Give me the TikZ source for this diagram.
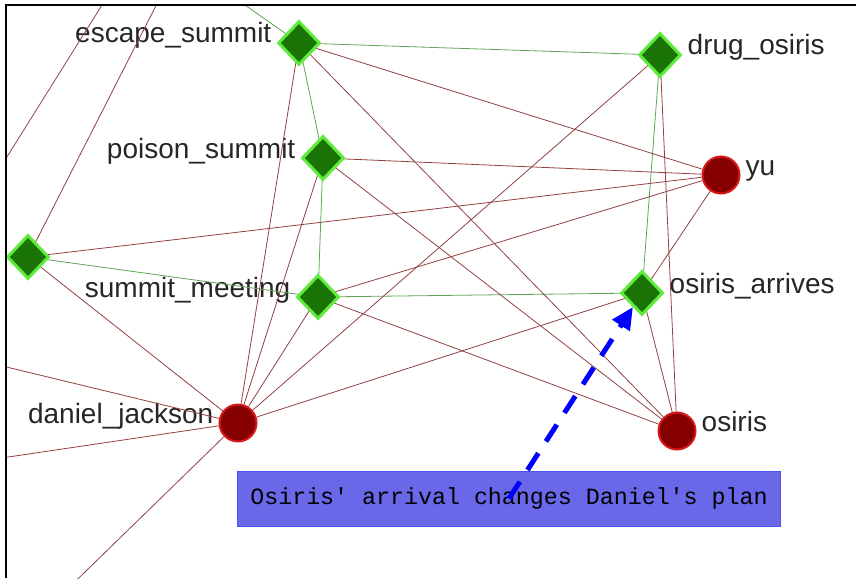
\documentclass[tikz,border=0pt]{standalone}
\usepackage{fontspec}
\usepackage{xcolor}
\usepackage{tikz}
\usetikzlibrary{arrows.meta,shapes.geometric}
\setmainfont{Liberation Sans}
\newfontfamily\notemono{Liberation Mono}
\definecolor{evtfill}{RGB}{25,115,5}
\definecolor{evtedge}{RGB}{95,235,60}
\definecolor{agtfill}{RGB}{135,0,0}
\definecolor{agtedge}{RGB}{215,25,25}
\definecolor{linkred}{RGB}{145,65,65}
\definecolor{linkgreen}{RGB}{95,165,85}
\definecolor{noteblue}{RGB}{104,104,232}
\definecolor{noteedge}{RGB}{80,80,250}

\begin{document}
\begin{tikzpicture}[x=1pt,y=-1pt,
  event/.style={diamond, draw=evtedge, fill=evtfill, line width=3pt,
                minimum width=42pt, minimum height=44pt, inner sep=0pt},
  agent/.style={circle, draw=agtedge, fill=agtfill, line width=2pt,
                minimum size=37pt, inner sep=0pt},
  lbl/.style={font=\fontsize{28}{30}\selectfont, inner sep=0pt, text=black!85},
  tagleft/.style={label={[lbl,anchor=base east,xshift=-5pt]west:#1}},
  tagright/.style={label={[lbl,anchor=base west,xshift=5pt]east:#1}},
  rel/.style={linkred, line width=0.8pt},
  tie/.style={linkgreen, line width=0.8pt},
  note/.style={draw=noteedge, fill=noteblue, line width=1pt, inner xsep=13pt,
               minimum height=55pt, font=\notemono\fontsize{23.3}{25}\selectfont},
  arrow/.style={-{Triangle[length=22pt,width=20pt]}, blue, line width=5pt,
                dash pattern=on 20pt off 14pt}
]
\useasboundingbox (0,0) rectangle (856,578);

% events and agents
\node[event, tagleft=escape\_summit] (escape) at (299,43) {};
\node[event, tagright=drug\_osiris] (drug) at (660,55) {};
\node[event, tagleft=poison\_summit] (poison) at (323,158) {};
\node[agent, tagright=yu] (yu) at (721,175) {};
\node[event] (side) at (28,257) {};
\node[event, tagleft=summit\_meeting] (meeting) at (318,297) {};
\node[event, tagright=osiris\_arrives] (arrives) at (642,293) {};
\node[agent, tagleft=daniel\_jackson] (daniel) at (238,423) {};
\node[agent, tagright=osiris] (osiris) at (677,431) {};

% green links between events
\draw[tie] (escape) -- (drug);
\draw[tie] (escape) -- (poison);
\draw[tie] (poison) -- (meeting);
\draw[tie] (side) -- (meeting);
\draw[tie] (meeting) -- (arrives);
\draw[tie] (drug) -- (arrives);

% red links
\draw[rel] (escape) -- (yu);
\draw[rel] (escape) -- (osiris);
\draw[rel] (escape) -- (daniel);
\draw[rel] (poison) -- (yu);
\draw[rel] (poison) -- (osiris);
\draw[rel] (poison) -- (daniel);
\draw[rel] (side) -- (yu);
\draw[rel] (side) -- (daniel);
\draw[rel] (meeting) -- (yu);
\draw[rel] (meeting) -- (osiris);
\draw[rel] (meeting) -- (daniel);
\draw[rel] (drug) -- (daniel);
\draw[rel] (drug) -- (osiris);
\draw[rel] (yu) -- (arrives);
\draw[rel] (daniel) -- (arrives);
\draw[rel] (arrives) -- (osiris);

% links to nodes outside the view
\begin{scope}
  \clip (6,5) rectangle (856,578);
  \coordinate (outescape) at (191,-33);
  \coordinate (outside) at (196,-73);
  \coordinate (outA) at (-30,216);
  \coordinate (outB) at (122,-27);
  \coordinate (outL1) at (-39,356);
  \coordinate (outL2) at (-39,464);
  \coordinate (outBot) at (48,608);
  \draw[tie] (escape) -- (outescape);
  \draw[rel] (side) -- (outside);
  \draw[rel] (outA) -- (outB);
  \draw[rel] (daniel) -- (outL1);
  \draw[rel] (daniel) -- (outL2);
  \draw[rel] (daniel) -- (outBot);
\end{scope}

\node[note] (remark) at (509,498.5) {Osiris' arrival changes Daniel's plan};
\draw[arrow] (remark.center) -- (arrives);

\draw[line width=2pt] (6,578) -- (6,5) -- (856,5);
\end{tikzpicture}
\end{document}
